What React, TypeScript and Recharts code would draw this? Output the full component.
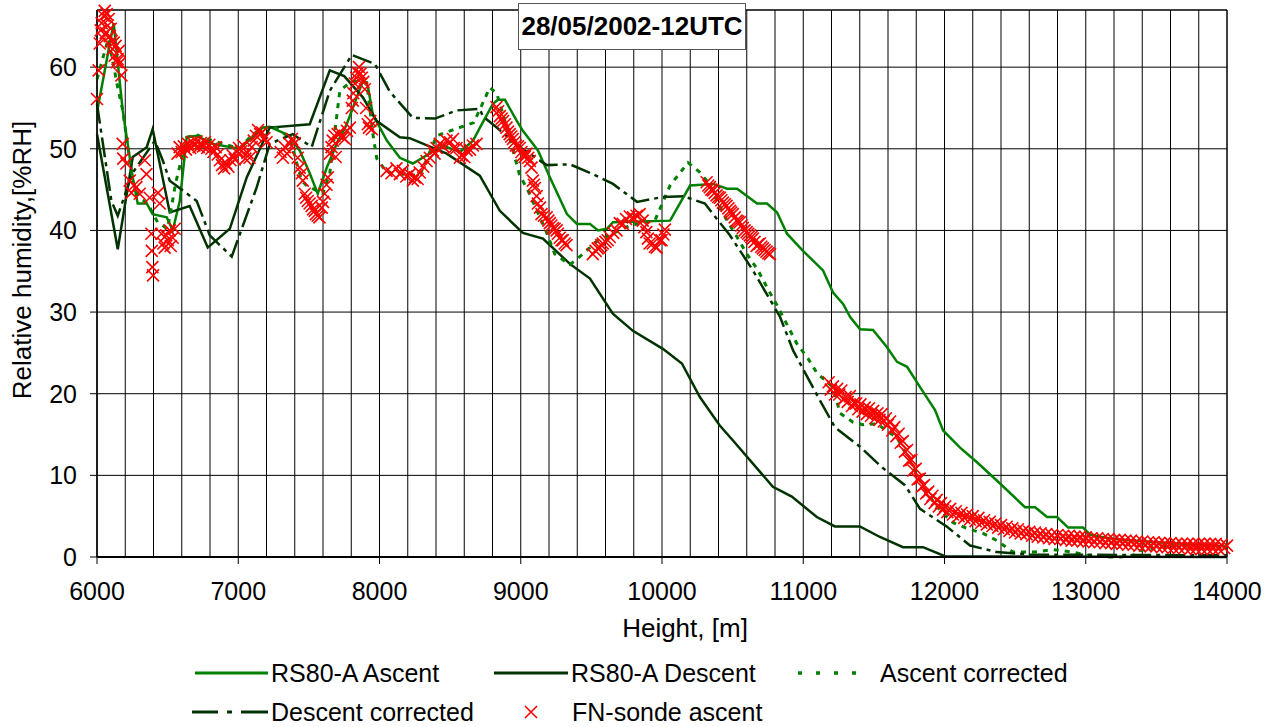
import React from 'react';
import { ComposedChart, Line, Scatter, XAxis, YAxis, CartesianGrid, ReferenceArea, Label } from 'recharts';

const FONT = '"Liberation Sans", Arial, Helvetica, sans-serif';
const GREEN = '#008000';
const DARK = '#003300';
const RED = '#ff0000';

// height [m], relative humidity [%RH]
const rs80Ascent: [number, number][] = [
  [6000, 54.5], [6118, 65.4], [6182, 54.7], [6253, 46.5], [6288, 43.3], [6352, 43.3], [6394, 42.0], [6494, 41.6],
  [6536, 40.0], [6586, 43.6], [6635, 51.4], [6706, 51.6], [6819, 50.6], [7010, 50.0], [7173, 52.6], [7223, 52.7],
  [7364, 51.6], [7435, 49.8], [7506, 47.0], [7563, 44.5], [7627, 47.7], [7697, 50.6], [7768, 53.0], [7839, 56.3],
  [7882, 58.3], [7917, 57.7], [7953, 54.2], [8052, 51.0], [8144, 48.9], [8236, 48.2], [8450, 50.4], [8570, 49.6],
  [8662, 51.0], [8711, 52.6], [8803, 55.5], [8838, 56.0], [8888, 56.0], [8973, 53.4], [9015, 52.2], [9122, 49.8],
  [9206, 46.5], [9327, 42.0], [9398, 40.8], [9490, 40.8], [9547, 40.0], [9611, 40.2], [9653, 41.0], [10057, 41.2],
  [10199, 45.5], [10362, 45.7], [10461, 45.1], [10532, 45.1], [10673, 43.3], [10744, 43.3], [10815, 42.2], [10885, 39.6],
  [10998, 37.5], [11140, 35.1], [11211, 32.4], [11282, 31.0], [11332, 29.4], [11402, 27.9], [11494, 27.8], [11593, 25.7],
  [11664, 23.9], [11735, 23.3], [11827, 20.8], [11933, 18.0], [11990, 15.5], [12110, 13.4], [12230, 11.6], [12393, 9.0],
  [12570, 6.1], [12641, 6.1], [12726, 4.9], [12797, 4.9], [12875, 3.6], [12981, 3.6], [13031, 2.7], [13200, 2.2],
  [13500, 1.8], [13800, 1.5], [14000, 1.3],
];

const rs80Descent: [number, number][] = [
  [6000, 51.8], [6147, 37.7], [6253, 49.0], [6352, 50.2], [6394, 52.4], [6515, 42.2], [6656, 43.0], [6784, 37.9],
  [6940, 40.2], [7060, 46.5], [7223, 52.6], [7506, 53.0], [7648, 59.6], [7750, 58.9], [7882, 56.3], [7981, 53.4],
  [8144, 51.4], [8214, 51.3], [8476, 49.4], [8710, 46.7], [8852, 42.4], [9015, 39.7], [9157, 39.0], [9348, 35.9],
  [9490, 34.1], [9652, 29.8], [9794, 27.7], [10006, 25.5], [10141, 23.7], [10268, 19.6], [10409, 16.1], [10501, 14.3],
  [10785, 8.6], [10919, 7.4], [11096, 4.9], [11224, 3.75], [11401, 3.75], [11543, 2.45], [11706, 1.2], [11848, 1.2],
  [12003, 0.1], [14000, 0],
];

const ascentCorrected: [number, number][] = [
  [6000, 58.5], [6080, 63.5], [6147, 57.5], [6182, 54.7], [6253, 46.0], [6302, 44.0], [6359, 43.3], [6429, 41.0],
  [6500, 40.2], [6557, 45.8], [6635, 51.4], [6706, 51.7], [6819, 51.0], [7010, 50.0], [7102, 51.8], [7201, 52.6],
  [7244, 52.8], [7364, 51.4], [7449, 46.1], [7484, 45.5], [7598, 44.5], [7648, 47.0], [7719, 57.1], [7804, 58.3],
  [7910, 58.1], [7953, 51.8], [7981, 48.8], [8052, 47.1], [8285, 46.7], [8405, 51.6], [8469, 52.0], [8667, 53.2],
  [8731, 55.6], [8781, 57.5], [8830, 56.8], [8908, 52.2], [8993, 46.7], [9043, 45.2], [9177, 40.0], [9241, 37.1],
  [9348, 35.8], [9440, 37.1], [9539, 38.7], [9771, 40.6], [9949, 41.2], [10057, 45.5], [10184, 48.3], [10262, 47.2],
  [10326, 45.9], [10460, 41.2], [10531, 39.2], [10602, 37.1], [10680, 35.1], [10744, 33.0], [10815, 30.8], [10956, 26.1],
  [11034, 24.3], [11098, 22.5], [11211, 20.8], [11261, 17.6], [11353, 16.5], [11423, 16.2], [11522, 16.3], [11664, 14.6],
  [11778, 11.0], [11877, 7.8], [11969, 5.7], [12061, 4.2], [12160, 3.5], [12273, 2.9], [12372, 2.0], [12485, 0.6],
  [12627, 0.6], [12768, 0.9], [12910, 0.6], [13009, 0.2], [13151, 0], [13243, 0], [13335, 0.2], [13385, 0.8],
  [13600, 1.4], [14000, 1.2],
];

const descentCorrected: [number, number][] = [
  [6000, 55.5], [6102, 43.6], [6147, 41.8], [6250, 47.0], [6410, 51.0], [6465, 48.6], [6515, 46.1], [6706, 43.6],
  [6798, 39.4], [6954, 36.8], [7131, 45.3], [7223, 50.6], [7386, 51.8], [7520, 50.2], [7648, 57.1], [7804, 61.5],
  [7967, 60.4], [8073, 57.0], [8236, 53.8], [8392, 53.7], [8547, 54.7], [8710, 54.9], [8731, 54.0], [8830, 52.6],
  [8993, 50.2], [9184, 48.0], [9348, 48.1], [9511, 46.9], [9653, 45.7], [9823, 43.5], [10006, 44.1], [10148, 44.2],
  [10304, 43.3], [10361, 42.0], [10481, 39.4], [10644, 35.1], [10836, 29.4], [10928, 25.3], [11105, 19.6], [11224, 15.9],
  [11402, 13.5], [11557, 11.0], [11720, 8.8], [11827, 5.9], [12018, 3.7], [12181, 1.4], [12372, 0.6], [12606, 0.3],
  [14000, 0.2],
];

// FN-sonde, below 8000 m
const fnLow: [number, number][] = [
  [6000, 56.1], [6012, 59.6], [6019, 62.9], [6026, 64.5], [6033, 65.4], [6040, 63.6], [6047, 66.3], [6055, 66.9],
  [6062, 64.2], [6069, 66.5], [6076, 65.1], [6083, 65.9], [6090, 63.8], [6097, 64.7], [6104, 63.2], [6111, 62.2],
  [6118, 63.0], [6125, 61.4], [6132, 62.6], [6140, 60.6], [6146, 61.0], [6154, 62.0], [6161, 60.5], [6173, 59.0],
  [6182, 50.6], [6186, 48.8], [6208, 48.2], [6232, 46.1], [6244, 44.6], [6260, 45.5], [6279, 45.3], [6302, 44.5],
  [6338, 48.6], [6350, 46.9], [6373, 44.0], [6385, 39.6], [6388, 37.5], [6392, 35.5], [6397, 34.5], [6432, 44.6],
  [6444, 43.3], [6456, 39.6], [6470, 38.4], [6479, 37.9], [6490, 39.4], [6501, 38.8], [6515, 40.0], [6522, 38.1],
  [6536, 39.1], [6550, 40.2],
  [6570, 49.4], [6585, 50.2], [6600, 49.6], [6615, 50.3], [6630, 49.9], [6645, 50.6], [6660, 50.1], [6675, 50.8],
  [6690, 50.4], [6705, 50.9], [6720, 50.2], [6735, 50.7], [6750, 50.3], [6765, 50.8], [6780, 50.1], [6795, 50.5],
  [6810, 50.0], [6825, 49.6], [6840, 50.2], [6855, 49.3], [6870, 48.6], [6885, 48.0], [6900, 47.6], [6915, 48.2],
  [6930, 47.8], [6945, 48.6], [6960, 49.2], [6975, 48.7], [6990, 49.6], [7005, 50.1], [7020, 49.7], [7035, 50.4],
  [7050, 48.8], [7065, 49.5], [7080, 48.9], [7095, 50.2], [7110, 51.0], [7125, 51.6], [7140, 52.3], [7155, 51.8],
  [7170, 52.0], [7185, 51.3], [7200, 50.8],
  [7300, 49.6], [7316, 48.9], [7330, 50.2], [7345, 49.4], [7364, 50.6], [7380, 51.2], [7400, 50.7], [7421, 48.9],
  [7435, 47.7], [7450, 47.0], [7457, 46.1], [7471, 44.5], [7480, 44.0], [7492, 43.6], [7505, 43.3], [7520, 43.0],
  [7530, 42.6], [7541, 42.4], [7550, 42.0], [7563, 41.8], [7575, 41.6], [7591, 42.8], [7600, 43.5], [7612, 44.5],
  [7625, 45.6], [7634, 46.5], [7648, 49.4], [7660, 50.2], [7669, 51.0], [7680, 51.6], [7690, 49.0], [7704, 51.8],
  [7720, 52.0], [7740, 51.4], [7755, 51.2], [7770, 52.2], [7790, 52.6], [7804, 55.0], [7811, 55.9], [7815, 56.8],
  [7825, 58.0], [7835, 58.7], [7846, 59.3], [7855, 60.0], [7865, 59.2], [7875, 58.7], [7885, 58.2], [7896, 57.3],
  [7905, 55.0], [7917, 53.0], [7925, 52.6], [7935, 53.4], [7946, 52.4],
];

// FN-sonde, 8000-10800 m
const fnMid: [number, number][] = [
  [8050, 47.3], [8085, 47.0], [8120, 47.6], [8144, 46.9], [8165, 47.3], [8190, 46.6], [8214, 46.9], [8236, 46.1],
  [8250, 46.5], [8270, 46.3], [8285, 47.1], [8310, 47.8], [8333, 48.5], [8356, 48.9], [8377, 49.8], [8390, 49.4],
  [8404, 50.1], [8427, 50.6], [8450, 50.3], [8474, 51.0], [8500, 50.8], [8520, 51.2], [8525, 50.1], [8545, 50.1],
  [8569, 48.9], [8581, 49.2], [8600, 49.0], [8616, 49.8], [8640, 49.9], [8661, 50.4], [8687, 50.6],
  [8828, 55.1], [8840, 54.6], [8852, 54.0], [8865, 53.7], [8875, 53.4], [8888, 53.0], [8899, 52.6], [8910, 52.1],
  [8922, 51.8], [8933, 51.5], [8944, 51.2], [8955, 50.8], [8965, 50.4], [8980, 50.3], [8993, 50.1], [9005, 49.6],
  [9015, 49.2], [9028, 49.0], [9041, 49.4], [9053, 48.9], [9065, 48.5], [9076, 47.7], [9086, 46.1], [9093, 45.6],
  [9100, 45.2], [9112, 44.2], [9121, 43.3], [9136, 42.8], [9147, 42.0], [9164, 41.8], [9183, 41.6], [9195, 41.2],
  [9206, 40.9], [9217, 40.6], [9228, 40.3], [9240, 40.2], [9254, 40.0], [9263, 39.6], [9276, 39.1], [9289, 38.8],
  [9298, 38.8], [9311, 38.4], [9324, 38.2],
  [9510, 37.1], [9530, 37.5], [9545, 37.8], [9559, 37.9], [9570, 38.2], [9581, 38.4], [9600, 38.6], [9616, 38.8],
  [9630, 39.2], [9655, 39.7], [9678, 40.0], [9701, 40.9], [9722, 40.8], [9745, 41.4], [9772, 41.7], [9795, 41.6],
  [9820, 41.8], [9842, 42.0], [9863, 41.2], [9876, 40.4], [9889, 39.8], [9900, 39.0], [9912, 38.4], [9934, 38.4],
  [9950, 38.0], [9962, 37.9], [9985, 38.8], [9997, 38.8], [10010, 39.5], [10020, 40.1],
  [10316, 45.9], [10328, 45.5], [10339, 45.3], [10350, 45.0], [10361, 44.9], [10373, 44.6], [10386, 44.3], [10398, 44.1],
  [10410, 44.0], [10420, 43.7], [10431, 43.4], [10445, 43.2], [10457, 43.0], [10470, 42.7], [10481, 42.4], [10490, 42.2],
  [10501, 42.0], [10515, 41.6], [10528, 41.2], [10540, 41.1], [10551, 41.0], [10562, 40.6], [10572, 40.3], [10585, 40.0],
  [10599, 39.8], [10610, 39.6], [10622, 39.4], [10633, 39.2], [10643, 39.0], [10655, 38.6], [10670, 38.1], [10680, 38.3],
  [10693, 38.4], [10703, 38.0], [10714, 37.8], [10727, 37.6], [10740, 37.4], [10752, 37.2], [10764, 37.1],
];

// FN-sonde, above 11000 m
const fnHigh: [number, number][] = [
  [11180, 21.4], [11195, 20.5], [11210, 20.9], [11225, 19.9], [11240, 20.6], [11255, 19.9], [11270, 20.4], [11285, 19.3],
  [11300, 19.6], [11315, 19.0], [11330, 19.7], [11345, 18.5], [11360, 18.9], [11375, 18.8], [11390, 18.1], [11405, 18.7],
  [11420, 17.8], [11435, 18.3], [11450, 17.5], [11465, 18.2], [11480, 17.3], [11495, 17.9], [11510, 17.0], [11525, 17.6],
  [11540, 16.8], [11555, 17.5], [11570, 16.6], [11585, 17.0], [11600, 16.2], [11615, 16.6], [11630, 15.5], [11645, 15.9],
  [11660, 14.8], [11675, 15.1], [11690, 14.0], [11705, 14.2], [11720, 12.9], [11735, 13.1], [11750, 11.8], [11765, 11.9],
  [11780, 10.6], [11795, 10.8], [11810, 9.5], [11825, 9.6], [11840, 8.6], [11855, 8.8], [11870, 7.8], [11885, 8.0],
  [11900, 7.1], [11915, 7.5], [11930, 6.6], [11945, 7.0], [11960, 6.2], [11975, 6.6], [11990, 5.8], [12005, 6.2],
  [12020, 5.5], [12040, 5.9], [12060, 5.2], [12080, 5.6], [12100, 5.0], [12120, 5.4], [12140, 4.8], [12160, 5.2],
  [12180, 4.6], [12200, 5.0], [12220, 4.4], [12240, 4.8], [12260, 4.2], [12280, 4.5], [12300, 4.0], [12320, 4.3],
  [12340, 3.8], [12360, 4.1], [12380, 3.6], [12400, 3.9], [12420, 3.4], [12440, 3.7], [12460, 3.2], [12480, 3.5],
  [12500, 3.0], [12520, 3.4], [12540, 2.9], [12560, 3.2], [12580, 2.8], [12600, 3.1], [12620, 2.6], [12640, 3.0],
  [12660, 2.5], [12680, 2.9], [12700, 2.4], [12720, 2.8], [12740, 2.3], [12760, 2.7], [12780, 2.2], [12800, 2.7],
  [12820, 2.2], [12840, 2.6], [12860, 2.1], [12880, 2.6], [12900, 2.0], [12920, 2.5], [12940, 2.0], [12960, 2.5],
  [12980, 1.9], [13000, 2.4], [13020, 1.9], [13040, 2.3], [13060, 1.8], [13080, 2.3], [13100, 1.8], [13120, 2.2],
  [13140, 1.7], [13160, 2.2], [13180, 1.7], [13200, 2.1], [13220, 1.6], [13240, 2.1], [13260, 1.6], [13280, 2.0],
  [13300, 1.5], [13320, 2.0], [13340, 1.5], [13360, 1.9], [13380, 1.4], [13400, 1.9], [13420, 1.4], [13440, 1.8],
  [13460, 1.3], [13480, 1.8], [13500, 1.3], [13520, 1.7], [13540, 1.2], [13560, 1.7], [13580, 1.2], [13600, 1.7],
  [13620, 1.1], [13640, 1.6], [13660, 1.1], [13680, 1.6], [13700, 1.1], [13720, 1.6], [13740, 1.0], [13760, 1.6],
  [13780, 1.0], [13800, 1.6], [13820, 1.0], [13840, 1.6], [13860, 1.0], [13880, 1.6], [13900, 1.0], [13920, 1.6],
  [13940, 1.0], [13960, 1.5], [13980, 1.1], [14000, 1.4],
];

const xTicks = Array.from({ length: 41 }, (_, i) => 6000 + i * 200);
const yTicks = [0, 10, 20, 30, 40, 50, 60];

const toPoints = (rows: [number, number][]) => rows.map(([h, rh]) => ({ h, rh }));

const ascentData = toPoints(rs80Ascent);
const descentData = toPoints(rs80Descent);
const ascentCorrData = toPoints(ascentCorrected);
const descentCorrData = toPoints(descentCorrected);
const fnData = toPoints([...fnLow, ...fnMid, ...fnHigh]);

// labels and tick marks only every 1000 m, grid every 200 m
const HeightTick = (props: any) => {
  const { x, y, payload } = props;
  if (payload.value % 1000 !== 0) return <g />;
  return (
    <g>
      <line x1={x} x2={x} y1={y - 25} y2={y - 18} stroke="#000" />
      <text x={x} y={y} dy="0.71em" textAnchor="middle" fontSize={25} fontFamily={FONT} fill="#000">
        {payload.value}
      </text>
    </g>
  );
};

const Cross = (props: any) => {
  const { cx, cy } = props;
  if (cx == null || cy == null) return <g />;
  const s = 6;
  return (
    <path
      d={`M${cx - s},${cy - s}L${cx + s},${cy + s}M${cx - s},${cy + s}L${cx + s},${cy - s}`}
      stroke={RED}
      strokeWidth={1.6}
      fill="none"
    />
  );
};

const YTitle = () => (
  <text transform="translate(22,260) rotate(-90)" textAnchor="middle" dominantBaseline="central"
    fontSize={26} fontFamily={FONT} fill="#000">
    Relative humidity,[%RH]
  </text>
);

const XTitle = () => (
  <text x={685} y={628} textAnchor="middle" dominantBaseline="central" fontSize={26} fontFamily={FONT} fill="#000">
    Height, [m]
  </text>
);

const legendText = { fontSize: 25, fontFamily: FONT, fill: '#000' };

function ChartLegend() {
  return (
    <svg width={1272} height={87} style={{ position: 'absolute', left: 0, top: 640 }}>
      <line x1={195} x2={268} y1={33} y2={33} stroke={GREEN} strokeWidth={3} />
      <text x={271} y={42} {...legendText}>RS80-A Ascent</text>
      <line x1={494} x2={568} y1={33} y2={33} stroke={DARK} strokeWidth={3} />
      <text x={571} y={42} {...legendText}>RS80-A Descent</text>
      <line x1={798} x2={862} y1={33} y2={33} stroke={GREEN} strokeWidth={3.5} strokeDasharray="4 14" />
      <text x={880} y={42} {...legendText}>Ascent corrected</text>
      <line x1={192} x2={268} y1={72} y2={72} stroke={DARK} strokeWidth={3} strokeDasharray="26 9 5 9 27" />
      <text x={271} y={81} {...legendText}>Descent corrected</text>
      <Cross cx={531} cy={72} />
      <text x={572} y={81} {...legendText}>FN-sonde ascent</text>
    </svg>
  );
}

export default function App() {
  return (
    <div style={{ position: 'absolute', left: 0, top: 0, width: 1272, height: 727, background: '#fff', fontFamily: FONT }}>
      <ComposedChart width={1272} height={727} margin={{ top: 10, right: 45, bottom: 110, left: 0 }}>
        <CartesianGrid stroke="#000" strokeWidth={1} />
        <XAxis
          type="number"
          dataKey="h"
          domain={[6000, 14000]}
          ticks={xTicks}
          interval={0}
          height={60}
          tickSize={7}
          tickMargin={18}
          tickLine={false}
          tick={<HeightTick />}
          axisLine={{ stroke: '#000', strokeWidth: 2 }}
        >
          <Label value="Height, [m]" content={XTitle} />
        </XAxis>
        <YAxis
          type="number"
          domain={[0, 67]}
          ticks={yTicks}
          interval={0}
          width={97}
          tickSize={7}
          tickMargin={13}
          tick={{ fontSize: 25, fill: '#000', fontFamily: FONT }}
          tickLine={{ stroke: '#000' }}
          axisLine={{ stroke: '#000' }}
        >
          <Label value="Relative humidity,[%RH]" content={YTitle} />
        </YAxis>
        <ReferenceArea x1={6000} x2={14000} y1={0} y2={67} fill="none" stroke="#000" strokeWidth={1} />
        <Line data={ascentData} dataKey="rh" type="linear" stroke={GREEN} strokeWidth={2.5} dot={false} activeDot={false} isAnimationActive={false} />
        <Line data={descentData} dataKey="rh" type="linear" stroke={DARK} strokeWidth={2.5} dot={false} activeDot={false} isAnimationActive={false} />
        <Line data={ascentCorrData} dataKey="rh" type="linear" stroke={GREEN} strokeWidth={3} strokeDasharray="5 6" dot={false} activeDot={false} isAnimationActive={false} />
        <Line data={descentCorrData} dataKey="rh" type="linear" stroke={DARK} strokeWidth={2.5} strokeDasharray="20 5 4 5" dot={false} activeDot={false} isAnimationActive={false} />
        <Scatter data={fnData} dataKey="rh" shape={Cross} isAnimationActive={false} />
      </ComposedChart>
      <div
        style={{
          position: 'absolute', left: 518, top: 3, width: 228, height: 47, boxSizing: 'border-box',
          border: '1px solid #555', background: '#fff', fontWeight: 'bold', fontSize: 26, lineHeight: '45px',
          textAlign: 'center', color: '#000', fontFamily: FONT,
        }}
      >
        28/05/2002-12UTC
      </div>
      <ChartLegend />
    </div>
  );
}
